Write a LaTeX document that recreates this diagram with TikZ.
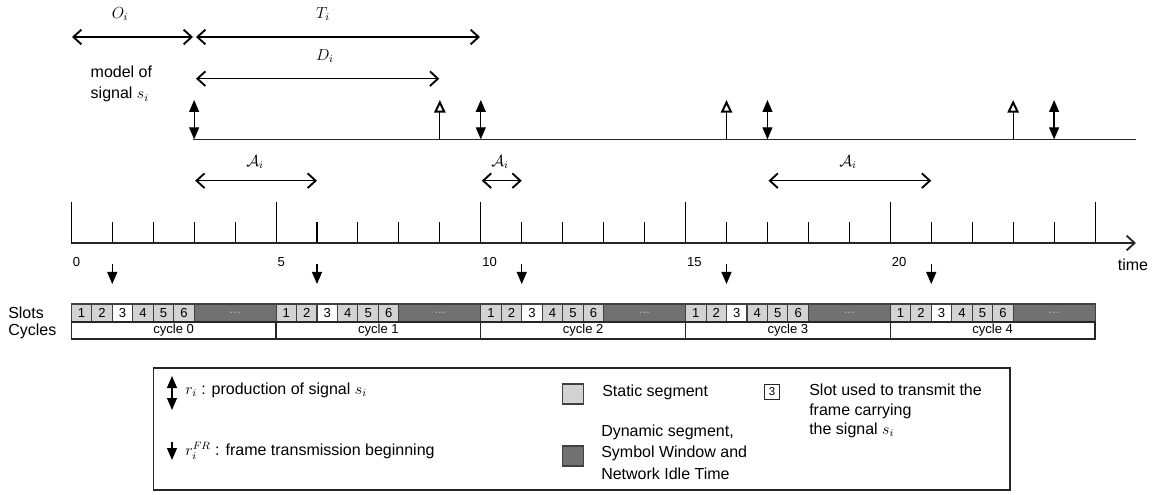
\documentclass[tikz,border=0pt]{standalone}
\usepackage{fontspec}
\setmainfont{Liberation Sans}
\usetikzlibrary{arrows.meta}
\definecolor{statgray}{HTML}{D3D3D3}
\definecolor{dyngray}{HTML}{717171}
\definecolor{dotgray}{HTML}{B8B8B8}
\newcommand\tp[1]{(71.3+40.95*(#1))}
\tikzset{
  dimarrow/.style={line width=0.95pt,{Straight Barb[length=6pt,width=11pt,line width=1.4pt]}-{Straight Barb[length=6pt,width=11pt,line width=1.4pt]}},
  prodarrow/.style={line width=0.95pt,{Triangle[length=9pt,width=7.5pt]}-{Triangle[length=9pt,width=7.5pt]}},
  deadarrow/.style={line width=0.95pt,-{Triangle[open,length=9.5pt,width=8.5pt,line width=1.5pt]}},
  frarrow/.style={line width=0.95pt,-{Triangle[length=9pt,width=7.5pt]}},
  axisline/.style={line width=1.1pt,black!85},
  tick/.style={line width=0.8pt},
  mainfont/.style={font=\fontsize{12}{16}\selectfont},
  smallfont/.style={font=\fontsize{9.8}{12}\selectfont},
  statslot/.style={draw=black!75,line width=0.8pt,fill=statgray},
  mineslot/.style={draw=black!75,line width=0.8pt,fill=white},
  dynslot/.style={draw=black!75,line width=0.8pt,fill=dyngray},
  cyclebox/.style={draw=black!85,line width=0.9pt,fill=white},
}
\begin{document}
\begin{tikzpicture}[x=0.75pt,y=-0.75pt]
\useasboundingbox (0,0) rectangle (1153,495);
% ---------- top dimension arrows
\coordinate (o0) at (72,37); \coordinate (o1) at (193,37);
\coordinate (t0) at (196,37); \coordinate (t1) at (480,37);
\coordinate (d0) at (196,78.7); \coordinate (d1) at (439.3,78.7);
\draw[dimarrow] (o0) -- (o1);
\draw[dimarrow] (t0) -- (t1);
\draw[dimarrow] (d0) -- (d1);
\node[mainfont] (lo) at (120,14) {$O_i$};
\node[mainfont] (lt) at (323,14) {$T_i$};
\node[mainfont] (ld) at (325,56) {$D_i$};
\node[mainfont,anchor=west,align=left] (model) at (86,84) {model of\\signal $s_i$};
% ---------- model line
\coordinate (b0) at (193,139.3); \coordinate (b1) at (1136,139.3);
\draw[axisline] (b0) -- (b1);
\foreach \t in {3,10,17,24}{
  \coordinate (pb\t) at ({\tp{\t}},139.3);
  \coordinate (pt\t) at ({\tp{\t}},100);
  \draw[prodarrow] (pb\t) -- (pt\t);
}
\foreach \t in {9,16,23}{
  \coordinate (db\t) at ({\tp{\t}},139.3);
  \coordinate (dt\t) at ({\tp{\t}},100);
  \draw[deadarrow] (db\t) -- (dt\t);
}
% ---------- A_i arrows
\foreach \a/\b/\lx [count=\k] in {3/6/255,10/11/500,17/21/848}{
  \coordinate (a\k s) at ({\tp{\a}+1},180.7);
  \coordinate (a\k e) at ({\tp{\b}},180.7);
  \draw[dimarrow] (a\k s) -- (a\k e);
  \node[mainfont] (la\k) at (\lx,162) {$\mathcal{A}_i$};
}
% ---------- time axis
\coordinate (ax0) at (71.3,243); \coordinate (ax1) at (1136,243);
\draw[axisline,-{Straight Barb[length=6pt,width=11pt,line width=1.4pt]}] (ax0) -- (ax1);
\foreach \t in {0,...,25}{
  \pgfmathsetmacro\tick{mod(\t,5)==0 ? 202 : 222}
  \draw[tick] ({\tp{\t}},243) -- ({\tp{\t}},\tick);
}
\foreach \t in {0,5,10,15,20}{
  \node[smallfont,anchor=north west,inner sep=1pt] (n\t) at ({\tp{\t}},256) {\t};
}
\node[mainfont] (time) at (1133,265) {time};
\foreach \t in {1,6,11,16,21}{
  \coordinate (fs\t) at ({\tp{\t}},264);
  \coordinate (fe\t) at ({\tp{\t}},284);
  \draw[frarrow] (fs\t) -- (fe\t);
}
% ---------- slots and cycles
\node[mainfont,anchor=west,inner sep=0pt] (slotslbl) at (8,312.5) {Slots};
\node[mainfont,anchor=west,inner sep=0pt] (cycleslbl) at (8,331) {Cycles};
\foreach \c in {0,...,4}{
  \foreach \i in {1,...,6}{
    \pgfmathsetmacro\xa{71.3+40.95*(5*\c+0.5*(\i-1))}
    \pgfmathsetmacro\xb{71.3+40.95*(5*\c+0.5*\i)}
    \ifnum\i=3
      \draw[mineslot] (\xa,304) rectangle (\xb,322);
    \else
      \draw[statslot] (\xa,304) rectangle (\xb,322);
    \fi
    \node[smallfont] (s\c-\i) at ({(\xa+\xb)/2},313) {\i};
  }
  \pgfmathsetmacro\xd{71.3+40.95*(5*\c+3)}
  \pgfmathsetmacro\xe{71.3+40.95*(5*\c+5)}
  \pgfmathsetmacro\xc{71.3+40.95*(5*\c)}
  \draw[dynslot] (\xd,304) rectangle (\xe,322);
  \node[smallfont,text=dotgray] (dots\c) at ({(\xd+\xe)/2},313) {...};
  \draw[cyclebox] (\xc,322) rectangle (\xe,339);
  \node[smallfont] (cy\c) at ({(\xc+\xe)/2},330.5) {cycle \c};
}
% ---------- legend
\draw[line width=0.9pt,black!85] (153.3,368) rectangle (1010,490);
\coordinate (lg1a) at (172,410); \coordinate (lg1b) at (172,376);
\draw[prodarrow] (lg1a) -- (lg1b);
\node[mainfont,anchor=west,inner sep=0pt] (lgt1) at (185,390) {$r_i$ : production of signal $s_i$};
\coordinate (lg2a) at (172,442); \coordinate (lg2b) at (172,460);
\draw[frarrow] (lg2a) -- (lg2b);
\node[mainfont,anchor=west,inner sep=0pt] (lgt2) at (185,451) {$r_i^{FR}$ : frame transmission beginning};
\draw[statslot] (562.7,384) rectangle (583.3,404);
\node[mainfont,anchor=west,inner sep=0pt] (lgs) at (602,392) {Static segment};
\draw[dynslot] (562.7,446) rectangle (583.3,466);
\node[mainfont,anchor=west,inner sep=0pt,align=left] (lgd) at (601,452) {Dynamic segment,\\Symbol Window and\\Network Idle Time};
\draw[draw=black!85,line width=0.8pt,fill=white] (764.5,384.5) rectangle (779.5,399.5);
\node[font=\fontsize{8.5}{10}\selectfont] (lg3) at (772,392) {3};
\node[mainfont,anchor=north west,inner sep=0pt,align=left,font=\fontsize{12}{14.5}\selectfont] (lgu) at (809,384) {Slot used to transmit the\\frame carrying\\the signal $s_i$};
\end{tikzpicture}
\end{document}
